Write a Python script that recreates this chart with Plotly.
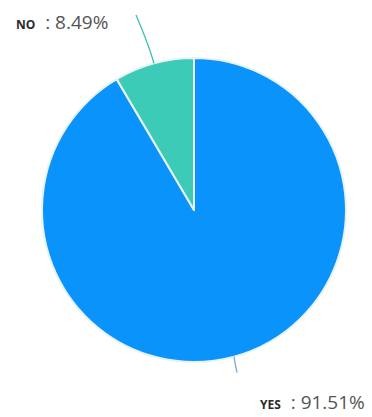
import math
import plotly.graph_objects as go

# Survey answers and their shares (%)
labels = ["YES", "NO"]
values = [91.51, 8.49]
colors = ["#0a93fb", "#3ccbb6"]
line_colors = ["#7fa9c9", "#3cbfb0"]

W, H = 372, 417
cx, cy, r = 194, 210, 152  # pie centre / radius in pixels

def px(x):
    return x / W

def py(y):
    return 1 - y / H

fig = go.Figure(go.Pie(
    labels=labels,
    values=values,
    sort=False,
    direction="clockwise",
    rotation=0,
    marker=dict(colors=colors, line=dict(color="#e8f3f6", width=2)),
    textinfo="none",
    hoverinfo="label+percent",
    showlegend=False,
    domain=dict(x=[px(cx - r), px(cx + r)], y=[py(cy + r), py(cy - r)]),
))

# Leader lines and labels, placed from each slice's mid-angle
total = sum(values)
start = 0.0
shapes, annotations = [], []
label_pos = {"YES": (367, 402, "right"), "NO": (14, 22, "left")}
for lab, val, lc in zip(labels, values, line_colors):
    mid = math.radians((start + val / 2) / total * 360)
    start += val
    sx, sy = cx + r * math.sin(mid), cy - r * math.cos(mid)
    ox, oy = cx + (r + 18) * math.sin(mid), cy - (r + 18) * math.cos(mid)
    tx, ty, anchor = label_pos[lab]
    if lab == "NO":
        ex, ey = 136, 15
    else:
        ex, ey = sx + 3, sy + 16
        ox, oy = sx + 1, sy + 8
    path = (f"M {px(sx)} {py(sy)} Q {px(ox)} {py(oy)} {px(ex)} {py(ey)}")
    shapes.append(dict(type="path", path=path, xref="paper", yref="paper",
                       line=dict(color=lc, width=1.3)))
    pct = val / total * 100
    annotations.append(dict(
        x=px(tx), y=py(ty), xref="paper", yref="paper",
        xanchor=anchor, yanchor="middle", showarrow=False,
        text=(f"<b><span style='font-size:12px;color:#2a2a2a'>{lab}</span></b>"
              f"  : {pct:.2f}%"),
        font=dict(family="Open Sans, sans-serif", size=19, color="#555"),
    ))

fig.update_layout(
    width=W, height=H,
    margin=dict(l=0, r=0, t=0, b=0),
    paper_bgcolor="white",
    plot_bgcolor="white",
    shapes=shapes,
    annotations=annotations,
)

fig.write_html("out.html")
